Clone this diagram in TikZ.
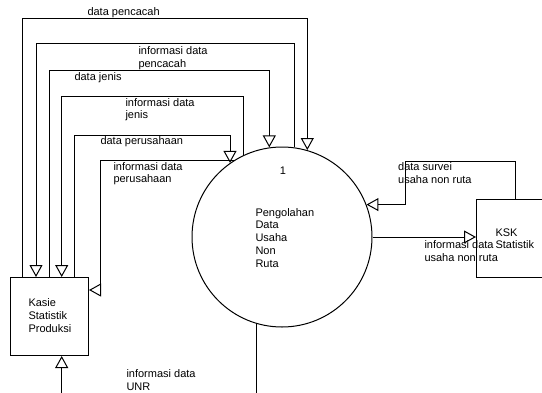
\documentclass[tikz,border=0pt]{standalone}
\usepackage{fontspec}
\setmainfont{Liberation Sans}
\usetikzlibrary{arrows.meta}
\begin{document}
\begin{tikzpicture}[x=1pt,y=-1pt,
  line width=1pt,
  arr/.style={-{Triangle[open,length=12pt,width=13pt]}},
  lbl/.style={anchor=base west,inner sep=0pt,align=left,font=\fontsize{11}{12.8}\selectfont},
  boxnode/.style={draw,rectangle,inner sep=0pt,anchor=north west}]
\useasboundingbox[fill=white] (0,0) rectangle (542,392);
% nodes
\node[draw,circle,minimum size=180pt,inner sep=0pt] (proc) at (282,237) {};
\node[boxnode,minimum width=78pt,minimum height=78pt] (kasie) at (10,277) {};
\node[boxnode,minimum width=90pt,minimum height=78pt] (ksk) at (476,199) {};
% texts in nodes (base anchor = last line baseline)
\node[lbl,anchor=base] (pnum) at (283,174) {1};
\node[lbl] (ptxt) at (255,267.2) {Pengolahan\\Data\\Usaha\\Non\\Ruta};
\node[lbl] (ktxt) at (28,332.3) {Kasie\\Statistik\\Produksi};
\node[lbl] (ksktxt) at (495,248.8) {KSK\\Statistik};
% connectors
\draw[arr] (22.7,0 |- kasie.north) |- (307.3,18.3) -- (307.3,0 |- proc.74);
\draw[arr] (294.7,0 |- proc.82) |- (36,43.3) -- (36,0 |- kasie.north);
\draw[arr] (49,0 |- kasie.north) |- (269.3,70) -- (269.3,0 |- proc.98);
\draw[arr] (243.3,0 |- proc.115) |- (61.7,96.7) -- (61.7,0 |- kasie.north);
\draw[arr] (74.3,0 |- kasie.north) |- (230,135) -- (230,0 |- proc.125);
\draw[arr] (proc.121 |- 0,160) -| (100,290) -- (kasie.east |- 0,290);
\draw[arr] (256.7,0 |- proc.254) -- (256.7,405) -| (61.7,0 |- kasie.south);
\draw[arr] (515,0 |- ksk.north) |- (405,161) |- (proc.21);
\draw[arr] (proc.east) -- (proc.east -| ksk.west);
% connector labels
\node[lbl] (l1) at (87,15.5) {data pencacah};
\node[lbl] (l2) at (138,67.3) {informasi data\\pencacah};
\node[lbl] (l3) at (74,80) {data jenis};
\node[lbl] (l4) at (125,118.8) {informasi data\\jenis};
\node[lbl] (l5) at (100,144.3) {data perusahaan};
\node[lbl] (l6) at (113,182.8) {informasi data\\perusahaan};
\node[lbl] (l7) at (126,390.1) {informasi data\\UNR};
\node[lbl] (l8) at (397.7,183.5) {data survei\\usaha non ruta};
\node[lbl] (l9) at (424,261.1) {informasi data\\usaha non ruta};
\end{tikzpicture}
\end{document}
